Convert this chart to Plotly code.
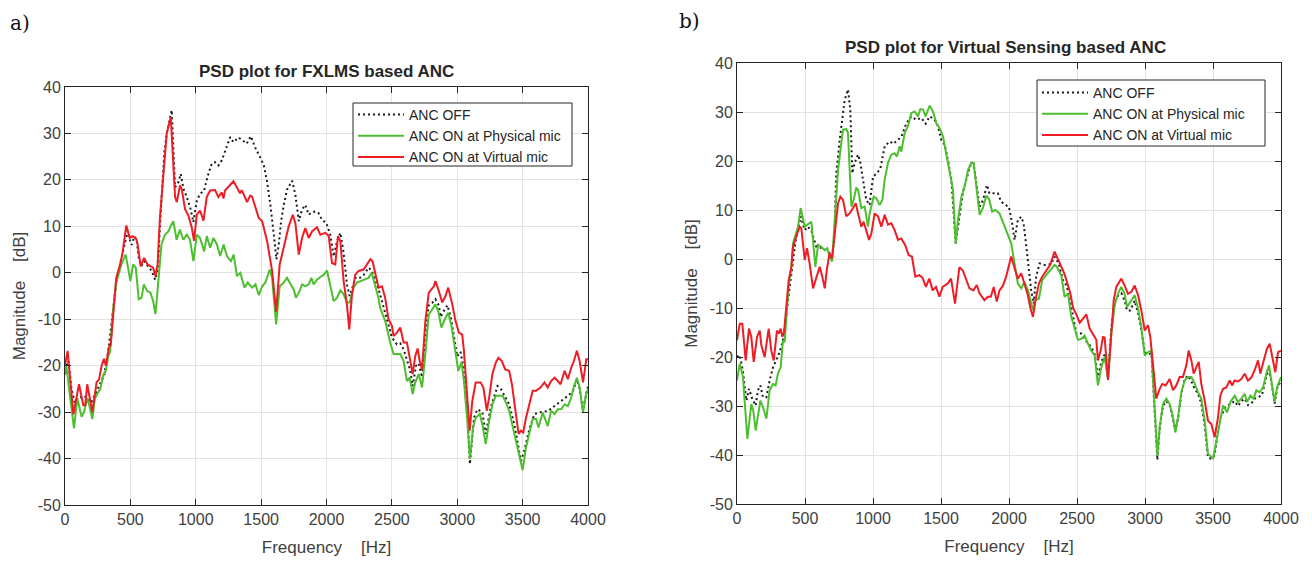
import plotly.graph_objects as go

# ---------------- Panel a) PSD plot for FXLMS based ANC ----------------
a_off_f = [0, 25, 50, 75, 100, 150, 200, 250, 280, 300, 330, 360, 392, 430, 460, 480, 497, 510, 530, 548, 565, 585, 605, 630, 660, 690, 710, 730, 760, 778, 816, 842, 867, 885, 906, 931, 957, 982, 1008, 1033, 1064, 1089, 1122, 1148, 1173, 1199, 1224, 1263, 1288, 1327, 1360, 1390, 1421, 1454, 1492, 1520, 1546, 1571, 1597, 1617, 1635, 1653, 1673, 1698, 1737, 1762, 1788, 1813, 1838, 1864, 1889, 1915, 1940, 1966, 1999, 2029, 2055, 2080, 2106, 2131, 2156, 2177, 2200, 2220, 2246, 2284, 2322, 2345, 2372, 2398, 2424, 2462, 2500, 2538, 2564, 2590, 2615, 2640, 2659, 2685, 2705, 2731, 2756, 2782, 2808, 2833, 2859, 2872, 2898, 2925, 2950, 2975, 3000, 3025, 3045, 3077, 3097, 3128, 3154, 3192, 3218, 3256, 3308, 3333, 3372, 3397, 3436, 3487, 3513, 3551, 3590, 3641, 3692, 3744, 3795, 3846, 3885, 3915, 3936, 3962, 4000]
a_off_db = [-21, -19, -25, -28, -27, -26.5, -28, -25, -23, -22, -17, -10, -2, 3, 7, 9, 7, 6, 7.8, 7, 3, 1.5, 2.5, 1.5, 0.5, -1.5, 1, 12, 26, 30, 35, 18.4, 19.5, 21.3, 18.1, 16.3, 14.1, 10.9, 15.5, 17, 17.7, 20.6, 23.5, 23.8, 23.1, 24.2, 26.3, 29.2, 28.1, 29.1, 28.5, 27.8, 29.4, 27, 24.9, 23.2, 19.6, 14.6, 8.2, 2.9, 6.1, 11.1, 14.6, 17.9, 19.8, 16.8, 11.1, 13.6, 14.6, 12.5, 13, 13.2, 12.8, 11.4, 10.7, 8.2, 3.5, 6.8, 8.6, 4.3, -2.5, -5, -3, -1.1, -1.3, -0.5, 1.1, 0.5, -1.5, -3.5, -6.1, -10, -13.9, -15.4, -15.2, -16.5, -18.6, -21, -24.4, -20, -19.5, -22.5, -13, -7, -6.5, -5.7, -7, -9.5, -8.2, -7, -9.5, -14, -18, -17, -20, -30, -41.2, -31.2, -29.4, -30, -34.7, -29, -24.4, -25, -27.2, -28.3, -32.6, -40.5, -38.3, -33.7, -30.4, -30, -29.8, -28.7, -27.6, -26.5, -25.5, -23, -25, -29.5, -24.4]

a_phy_f = [0, 10, 40, 69, 94, 127, 145, 170, 190, 209, 229, 250, 270, 293, 313, 331, 345, 367, 392, 431, 464, 482, 500, 521, 541, 564, 585, 603, 628, 654, 674, 692, 713, 738, 764, 790, 815, 828, 854, 879, 905, 931, 956, 982, 1008, 1033, 1064, 1085, 1110, 1136, 1162, 1187, 1213, 1238, 1269, 1290, 1315, 1341, 1373, 1398, 1431, 1457, 1482, 1508, 1533, 1566, 1584, 1615, 1642, 1673, 1698, 1724, 1749, 1766, 1795, 1813, 1838, 1864, 1884, 1902, 1927, 1953, 1979, 2004, 2029, 2055, 2080, 2106, 2131, 2156, 2177, 2207, 2233, 2258, 2296, 2321, 2346, 2372, 2397, 2410, 2449, 2487, 2513, 2564, 2590, 2615, 2636, 2659, 2679, 2705, 2731, 2756, 2782, 2808, 2833, 2854, 2879, 2905, 2931, 2956, 2982, 3008, 3033, 3051, 3077, 3097, 3121, 3141, 3172, 3192, 3218, 3244, 3269, 3295, 3346, 3372, 3397, 3436, 3474, 3500, 3526, 3551, 3577, 3603, 3621, 3654, 3692, 3718, 3744, 3769, 3795, 3821, 3846, 3872, 3892, 3915, 3936, 3962, 3987, 4000]
a_phy_db = [-22, -20, -27, -33.5, -27, -31, -30, -27, -29, -31.5, -27, -26, -25, -22, -21, -18, -17, -8.2, -2.1, 1.8, 3.9, 1.1, -1.8, 1.8, 1.1, -5.7, -5.4, -2.5, -3.9, -4.3, -6.1, -8.9, -2.5, 6.1, 8.2, 8.9, 10.4, 11.1, 7.1, 9.3, 7.1, 8.2, 7.1, 2.5, 8.2, 7.5, 4.6, 7.9, 5.4, 7.5, 6.1, 3.6, 6.1, 3.6, 2.5, 3.9, -0.7, 0, -3.2, -2.1, -3.2, -2.5, -4.8, -2.9, -2.1, 0.7, -1.1, -11.1, -2.9, -2.1, -1.1, -2.5, -3.6, -5.4, -3.9, -2.5, -2.9, -2.5, -1.1, -2.5, -1.5, -0.9, -0.4, 0.5, -2.5, -6.1, -5.4, -3.8, -4.6, -6.4, -6.4, -3.2, -2.1, -1.8, -1.4, -1.1, 0, -2.5, -5.4, -7.5, -10.4, -15, -17.5, -17.5, -19, -23.3, -22.6, -26.1, -23.6, -21.8, -24.7, -17.5, -9, -7.9, -6.8, -8.2, -11.8, -10, -8.6, -11.5, -16.1, -21.1, -19.3, -23.3, -31.9, -40.1, -33.3, -31.2, -30.4, -32.6, -36.9, -31.9, -28.3, -26.5, -26.5, -27.9, -29.7, -34.7, -39.8, -42.5, -37.6, -34.7, -31.5, -31.5, -33.3, -30.1, -33, -29.7, -30.4, -29.4, -29.4, -28.3, -28.7, -26.9, -24.4, -22.6, -24.7, -30.1, -25.8, -25.1]

a_vir_f = [0, 20, 64, 107, 140, 155, 170, 190, 209, 242, 260, 280, 298, 313, 336, 350, 369, 392, 418, 438, 469, 495, 515, 541, 554, 579, 605, 631, 656, 674, 692, 708, 726, 778, 809, 842, 855, 880, 893, 918, 944, 969, 987, 1008, 1033, 1059, 1084, 1110, 1148, 1173, 1199, 1212, 1224, 1263, 1288, 1314, 1339, 1352, 1378, 1393, 1416, 1431, 1441, 1482, 1508, 1546, 1584, 1615, 1642, 1673, 1711, 1742, 1762, 1788, 1813, 1838, 1864, 1889, 1927, 1953, 1991, 2017, 2042, 2067, 2088, 2106, 2131, 2156, 2174, 2195, 2220, 2246, 2284, 2309, 2335, 2352, 2373, 2398, 2424, 2449, 2474, 2500, 2513, 2538, 2564, 2590, 2615, 2641, 2659, 2679, 2697, 2713, 2731, 2756, 2782, 2821, 2833, 2859, 2885, 2910, 2931, 2962, 2987, 3013, 3038, 3051, 3077, 3095, 3115, 3141, 3179, 3200, 3226, 3244, 3269, 3295, 3315, 3341, 3367, 3397, 3418, 3444, 3469, 3487, 3505, 3526, 3551, 3577, 3603, 3636, 3667, 3692, 3718, 3744, 3769, 3790, 3821, 3846, 3872, 3892, 3915, 3936, 3962, 3987, 4000]
a_vir_db = [-20, -16.8, -30.5, -24, -28.5, -28.5, -24, -27, -30, -23.5, -23, -20, -18.5, -20, -16, -15.5, -8, -1.1, 1.4, 3.9, 10.2, 7.5, 7.9, 7.5, 6.4, 1.4, 3.2, 1.8, 1.4, 1.1, -0.7, 1.8, 11.8, 30, 33.5, 16.3, 15.2, 18.8, 18, 13.7, 12.3, 9.8, 6.9, 12.5, 13.4, 11.2, 16.3, 17.7, 17.8, 16.3, 17.3, 16, 17.7, 18.8, 19.7, 18.4, 17.1, 17.8, 16.3, 15.2, 16.6, 16.4, 15.5, 11.8, 11.1, 6.8, 0.4, -8.4, 1.8, 5.4, 10, 12.5, 10.7, 3.9, 7.5, 9.6, 7.5, 8.9, 9.8, 8.2, 8.6, 7.9, 2.1, 1.8, 7.9, 6.8, -1.8, -6.8, -12.2, -4.6, -0.4, 0.4, 0.7, 1.8, 2.9, 2.5, -0.4, -3.2, -2.9, -5.4, -10, -11.4, -13.6, -12.9, -11.8, -15, -15, -18.6, -21.8, -17.9, -16.3, -19, -20.8, -10.4, -4.3, -2.9, -1.8, -3.9, -6.4, -5, -3.2, -6.8, -10.4, -12.9, -13.3, -16.8, -28.3, -34, -27.6, -23.6, -23.6, -24.7, -29.7, -26.9, -21.8, -19.3, -18.3, -19, -20.8, -21.1, -24, -29, -34.7, -34, -34.4, -31.2, -28.3, -25.4, -25.4, -24.7, -23.6, -24.7, -23.3, -22.6, -23.3, -24, -21.1, -22.9, -20.4, -19, -16.8, -19, -23.6, -18.6, -18.6]

# ---------------- Panel b) PSD plot for Virtual Sensing based ANC ----------------
b_off_f = [0, 20, 44, 69, 88, 112, 137, 154, 172, 191, 216, 240, 265, 289, 314, 338, 368, 400, 430, 468, 498, 522, 550, 583, 632, 681, 700, 715, 730, 755, 792, 816, 833, 848, 865, 890, 905, 926, 951, 975, 1000, 1029, 1054, 1086, 1123, 1150, 1184, 1210, 1245, 1282, 1319, 1355, 1387, 1417, 1453, 1478, 1502, 1527, 1551, 1576, 1608, 1637, 1662, 1699, 1723, 1740, 1760, 1784, 1809, 1838, 1856, 1895, 1918, 1942, 1974, 1999, 2023, 2041, 2065, 2090, 2107, 2122, 2139, 2163, 2181, 2200, 2225, 2260, 2286, 2310, 2335, 2365, 2397, 2425, 2458, 2495, 2530, 2560, 2605, 2630, 2654, 2679, 2703, 2728, 2752, 2777, 2801, 2826, 2850, 2868, 2892, 2924, 2949, 2973, 2998, 3022, 3047, 3066, 3091, 3108, 3132, 3157, 3181, 3201, 3223, 3243, 3267, 3292, 3316, 3341, 3365, 3390, 3414, 3439, 3463, 3488, 3512, 3537, 3560, 3590, 3627, 3659, 3684, 3708, 3733, 3757, 3782, 3806, 3831, 3860, 3892, 3912, 3929, 3953, 3975, 4000]
b_off_db = [-20, -19.6, -23, -28.9, -26.5, -28.5, -29.9, -26.8, -25.8, -28.2, -28.2, -24.8, -22.1, -20.7, -19, -16.6, -10, -2, 3.5, 8.7, 5.9, 6.6, 5.5, 2.5, 2.2, 1.2, 0.5, 4, 17.5, 24.3, 32.5, 34.6, 30.5, 17.5, 19.6, 21.3, 20, 16.2, 12.1, 11, 16.8, 17.5, 18.5, 23, 24, 23.5, 24.3, 25, 27.7, 29.1, 28.4, 28.8, 27.6, 29.1, 28.4, 27.1, 24.3, 23.3, 20.2, 16.2, 3.2, 9.3, 13.8, 17.5, 19.7, 19.5, 15, 10.7, 12, 15.1, 13.4, 13.4, 13.4, 11.7, 11, 10.7, 7.3, 3.9, 8, 8.6, 7.3, 3.9, -0.9, -6.4, -9.1, -3.6, -0.9, -1.2, -1.2, -1, 0.5, -0.9, -4.3, -5.5, -9.8, -15.2, -15.2, -16.5, -18, -19.5, -24, -21, -19.5, -24, -14, -9, -7.5, -7, -8.5, -10.5, -10.5, -8.5, -11, -14.5, -19, -19.5, -19.2, -28, -41, -34.5, -30, -29, -29.8, -32, -35, -32.5, -27.5, -24.5, -23.8, -25, -26.5, -27.5, -29.5, -34, -40.5, -40.8, -40, -35, -32, -30.3, -29.5, -29, -30, -29, -28.5, -29.8, -29.5, -28.5, -28.2, -27.8, -24, -22.5, -25, -29.5, -26, -25]

b_phy_f = [0, 20, 44, 76, 105, 120, 137, 154, 172, 191, 216, 240, 265, 284, 301, 321, 338, 350, 368, 382, 400, 412, 449, 468, 498, 529, 547, 576, 596, 620, 645, 664, 681, 699, 713, 743, 779, 804, 816, 841, 858, 877, 890, 914, 939, 963, 975, 1005, 1025, 1049, 1069, 1086, 1110, 1135, 1159, 1176, 1196, 1208, 1233, 1257, 1282, 1306, 1331, 1348, 1368, 1387, 1417, 1441, 1466, 1490, 1515, 1539, 1564, 1588, 1608, 1625, 1650, 1674, 1699, 1723, 1740, 1760, 1784, 1809, 1833, 1853, 1876, 1900, 1930, 1955, 1991, 2016, 2041, 2065, 2090, 2114, 2139, 2163, 2176, 2195, 2220, 2244, 2274, 2298, 2335, 2352, 2384, 2409, 2434, 2458, 2483, 2507, 2532, 2556, 2581, 2605, 2630, 2654, 2679, 2703, 2728, 2752, 2777, 2801, 2826, 2850, 2868, 2892, 2924, 2949, 2973, 2998, 3022, 3047, 3066, 3091, 3108, 3132, 3157, 3181, 3201, 3223, 3243, 3267, 3292, 3316, 3341, 3360, 3390, 3414, 3439, 3463, 3488, 3500, 3525, 3549, 3574, 3603, 3627, 3659, 3684, 3708, 3733, 3750, 3775, 3799, 3819, 3843, 3868, 3892, 3912, 3929, 3953, 3971, 4000]
b_phy_db = [-24.8, -21.4, -24.1, -36.7, -29.6, -31, -35, -31.6, -28.9, -30.2, -32.6, -26.8, -25.5, -25.8, -23.4, -22.1, -16.6, -17, -10.5, -5, -1.6, 3.2, 6.6, 10.4, 6.6, 7.3, 7.6, -1.6, 2.9, 2.5, 1.8, 2.2, 0.5, -0.5, 5.2, 18.2, 26.4, 26.5, 25.7, 10.7, 12.1, 14.5, 14.2, 10.4, 10.7, 6.6, 9.3, 12.7, 12.4, 11, 12.1, 16.2, 19.6, 21.3, 21.6, 20.9, 23, 21.9, 25.7, 27.1, 29.8, 30.1, 29.1, 30.6, 30.5, 29.1, 31.3, 30.1, 27.7, 26.7, 25, 21.6, 17.5, 14.1, 3.2, 8, 12.7, 14.8, 18.2, 19.7, 19.6, 14.8, 9, 10.5, 12.9, 12.3, 9.7, 10, 9.3, 7.6, 5.2, 3.2, -0.9, -5, -6, -4.7, -6.4, -9.4, -10.4, -8.4, -8.1, -4.3, -3.3, -2.6, -1.2, -1.6, -3.3, -7.7, -7.1, -11.8, -14.5, -16.5, -16.3, -15.6, -17.3, -18.7, -19.7, -25.8, -22.1, -20, -24.5, -15.2, -9.5, -7.1, -5.7, -7.1, -9.8, -8.8, -7.4, -10.1, -13.9, -19.7, -19, -18.7, -27.5, -40.1, -34.3, -29.6, -28.5, -29.6, -31.6, -35.4, -32.3, -27.2, -24.8, -24.1, -24.1, -25.1, -27.2, -28.5, -33, -39.8, -40.4, -40.8, -37.1, -33.7, -29.9, -31.3, -29.2, -27.9, -29.2, -28.5, -27.5, -29.2, -27.9, -28.5, -26.8, -27.2, -26.2, -23.4, -21.7, -24.8, -29.2, -26.2, -24.1]

b_vir_f = [0, 20, 39, 64, 88, 105, 123, 147, 167, 179, 203, 233, 252, 270, 294, 309, 321, 333, 346, 363, 380, 400, 412, 440, 461, 473, 498, 515, 534, 559, 583, 608, 627, 645, 662, 681, 699, 718, 743, 760, 779, 804, 828, 853, 873, 890, 914, 931, 951, 971, 988, 1012, 1037, 1061, 1086, 1110, 1135, 1159, 1184, 1208, 1237, 1262, 1286, 1311, 1340, 1364, 1389, 1414, 1439, 1463, 1488, 1512, 1549, 1574, 1603, 1635, 1660, 1684, 1709, 1738, 1763, 1783, 1819, 1844, 1866, 1888, 1910, 1930, 1955, 1979, 2016, 2041, 2065, 2090, 2114, 2139, 2158, 2176, 2195, 2220, 2244, 2274, 2303, 2335, 2352, 2372, 2397, 2414, 2434, 2451, 2471, 2495, 2520, 2544, 2569, 2593, 2618, 2642, 2654, 2674, 2691, 2703, 2728, 2745, 2770, 2789, 2826, 2850, 2875, 2900, 2924, 2949, 2973, 2998, 3022, 3039, 3059, 3083, 3108, 3127, 3152, 3181, 3206, 3230, 3255, 3279, 3304, 3321, 3341, 3358, 3377, 3395, 3414, 3439, 3463, 3488, 3512, 3537, 3554, 3574, 3598, 3623, 3640, 3659, 3684, 3708, 3733, 3757, 3782, 3806, 3831, 3848, 3873, 3897, 3917, 3936, 3958, 3978, 4000]
b_vir_db = [-16.6, -13.2, -13.2, -20.7, -14.2, -15.9, -21, -15.9, -14.6, -17.6, -20, -14.2, -18.7, -20.7, -14.6, -15.2, -14.2, -15.9, -14.9, -9.1, -4.3, -1.6, 2.5, 5, 6.6, 6.3, -0.2, 2.2, -0.9, -6, -3.6, -1.6, -3.6, -6, -1.9, 1.2, 0.1, 5.2, 11.4, 12.7, 12.1, 8.7, 9.3, 10.4, 11.4, 9.3, 6.6, 7.6, 5.9, 3.9, 5.2, 9.3, 8.7, 6.6, 9, 7, 7.3, 5.9, 3.9, 4.2, 2.8, 0.8, 0.5, -3.6, -3.3, -3.8, -5.7, -4, -6.4, -5.7, -7.7, -5.7, -5, -4, -9.1, -1.7, -2.3, -4.3, -6, -6.4, -5.3, -7, -8.4, -7.7, -7.7, -5.7, -8.7, -6.4, -5.5, -3.6, 0.5, -1.9, -4, -2.9, -5, -7.4, -10.1, -11.8, -8.4, -5, -3.6, -2.3, -1.2, 1.5, 0.5, -0.9, -2.3, -3.6, -5.3, -7, -10, -11.3, -13, -12.2, -11.3, -14.2, -15.5, -16.5, -20.7, -18.7, -15.9, -16, -24.7, -18, -8.4, -5.7, -4, -5.4, -7.1, -6.7, -5.4, -7.4, -10.5, -14.6, -13.5, -15.9, -22.1, -28.5, -26.5, -25.5, -25.8, -24.5, -26.8, -25.8, -24.1, -24.1, -21.7, -18.7, -20.7, -23.4, -22.1, -21, -25.5, -28.9, -33, -33.7, -36.4, -32.3, -27.9, -26.5, -26.2, -24.8, -25.8, -24.8, -25, -24.5, -23.4, -24.8, -24.2, -22.7, -20.7, -23.4, -20.7, -18.3, -17.3, -20, -23.1, -19, -18.7]

series_names = ["ANC OFF", "ANC ON at Physical mic", "ANC ON at Virtual mic"]
x_ticks = [0, 500, 1000, 1500, 2000, 2500, 3000, 3500, 4000]
x_tick_labels = ["0", "500", "1000", "1500", "2000", "2500", "3000", "3500", "4000"]
y_ticks = [-50, -40, -30, -20, -10, 0, 10, 20, 30, 40]
y_tick_labels = ["-50", "-40", "-30", "-20", "-10", "0", "10", "20", "30", "40"]

C_OFF = "#1a1a1a"
C_PHY = "#4dbe2f"
C_VIR = "#ee1c25"
AX_COL = "#262626"
TXT_COL = "#404040"
FONT = "Liberation Sans, Arial, sans-serif"

W, H = 1312, 562
OFF = 8  # page body margin offset
def px_x(p):
    return (p - OFF) / W
def px_y(p):
    return 1 - (p - OFF) / H

fig = go.Figure()

panels = [
    dict(xa="x", ya="y", leg="legend",
         data=[(a_off_f, a_off_db), (a_phy_f, a_phy_db), (a_vir_f, a_vir_db)]),
    dict(xa="x2", ya="y2", leg="legend2",
         data=[(b_off_f, b_off_db), (b_phy_f, b_phy_db), (b_vir_f, b_vir_db)]),
]
styles = [dict(color=C_OFF, width=2, dash="2px,3px"),
          dict(color=C_PHY, width=2),
          dict(color=C_VIR, width=2)]

for p in panels:
    for (fx, fy), name, st in zip(p["data"], series_names, styles):
        fig.add_trace(go.Scatter(x=fx, y=fy, mode="lines", name=name, line=st,
                                 xaxis=p["xa"], yaxis=p["ya"], legend=p["leg"]))

axis_common = dict(
    showline=True, linecolor=AX_COL, linewidth=1, mirror="ticks",
    ticks="inside", ticklen=6, tickcolor=AX_COL,
    showgrid=True, gridcolor="#e3e3e3", gridwidth=1,
    zeroline=False, automargin=False,
    tickfont=dict(family=FONT, size=16, color=TXT_COL),
)

xaxis_common = dict(axis_common, range=[0, 4000], tickvals=x_ticks, ticktext=x_tick_labels,
                    title=dict(text="Frequency\u00a0\u00a0\u00a0\u00a0[Hz]",
                               font=dict(family=FONT, size=17, color=TXT_COL), standoff=13))
yaxis_common = dict(axis_common, range=[-50, 40], tickvals=y_ticks, ticktext=y_tick_labels,
                    title=dict(text="Magnitude\u00a0\u00a0\u00a0\u00a0[dB]",
                               font=dict(family=FONT, size=17, color=TXT_COL), standoff=7))

# Legends: transparent, with the framed box drawn as a layout shape
legend_common = dict(xanchor="left", yanchor="top",
                     bgcolor="rgba(0,0,0,0)", borderwidth=0,
                     font=dict(family=FONT, size=14, color="#262626"),
                     tracegroupgap=0, itemwidth=46)

fig.update_layout(
    width=W, height=H,
    margin=dict(l=0, r=0, t=0, b=0, autoexpand=False),
    paper_bgcolor="white", plot_bgcolor="white",
    xaxis=dict(xaxis_common, domain=[px_x(65), px_x(588)], anchor="y"),
    yaxis=dict(yaxis_common, domain=[px_y(505), px_y(87)], anchor="x"),
    xaxis2=dict(xaxis_common, domain=[px_x(737), px_x(1281)], anchor="y2"),
    yaxis2=dict(yaxis_common, domain=[px_y(504), px_y(63)], anchor="x2"),
    legend=dict(legend_common, x=px_x(353), y=px_y(99)),
    legend2=dict(legend_common, x=px_x(1037), y=px_y(77)),
    showlegend=True,
)

legend_boxes = [(353, 103, 572, 166), (1037, 80, 1265, 146)]
shapes = []
for (x0, y0, x1, y1) in legend_boxes:
    shapes.append(dict(type="rect", xref="paper", yref="paper",
                       x0=px_x(x0), x1=px_x(x1), y0=px_y(y1), y1=px_y(y0),
                       line=dict(color=AX_COL, width=1), fillcolor="white", layer="above"))
fig.update_layout(shapes=shapes)

annotations = [
    dict(text="<b>PSD plot for FXLMS based ANC</b>", x=px_x(326), y=px_y(72),
         xref="paper", yref="paper", showarrow=False, xanchor="center", yanchor="middle",
         font=dict(family=FONT, size=17, color="#262626")),
    dict(text="<b>PSD plot for Virtual Sensing based ANC</b>", x=px_x(1006), y=px_y(48),
         xref="paper", yref="paper", showarrow=False, xanchor="center", yanchor="middle",
         font=dict(family=FONT, size=17, color="#262626")),
    dict(text="a)", x=px_x(8), y=px_y(23), xref="paper", yref="paper", showarrow=False,
         xanchor="left", yanchor="middle",
         font=dict(family="DejaVu Serif, Liberation Serif, serif", size=20, color="#111111")),
    dict(text="b)", x=px_x(677), y=px_y(21), xref="paper", yref="paper", showarrow=False,
         xanchor="left", yanchor="middle",
         font=dict(family="DejaVu Serif, Liberation Serif, serif", size=20, color="#111111")),
]
fig.update_layout(annotations=annotations)

fig.write_html("out.html")
